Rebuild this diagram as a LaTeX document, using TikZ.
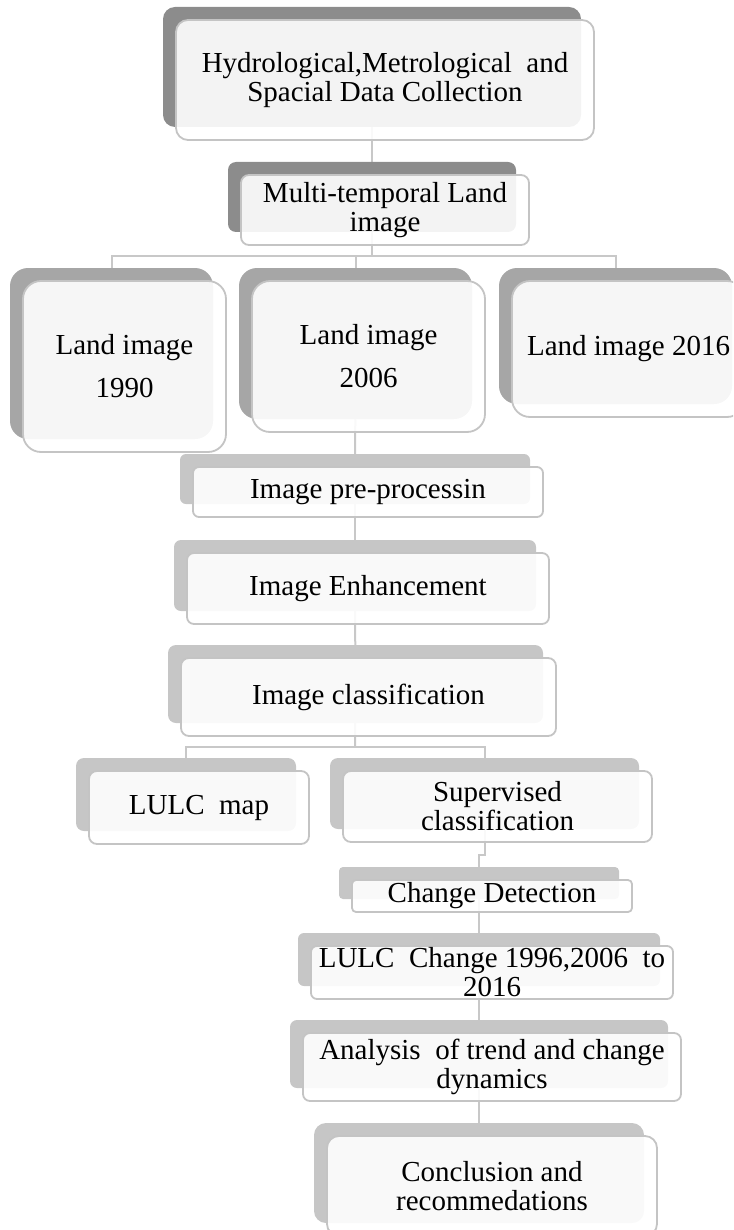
\documentclass[tikz,border=0pt]{standalone}
\usepackage{fontspec}
\setmainfont{Liberation Serif}
\usetikzlibrary{shadows,backgrounds}

\definecolor{shadowdark}{HTML}{8C8C8C}
\definecolor{shadowmid}{HTML}{A6A6A6}
\definecolor{shadowlight}{HTML}{C6C6C6}
\definecolor{boxline}{HTML}{C4C4C4}
\definecolor{linkgray}{HTML}{C8C8C8}

\newcommand{\boxfont}{\fontsize{14.5pt}{14.5pt}\selectfont}
\newcommand{\landfont}{\fontsize{14.5pt}{21.5pt}\selectfont}

\tikzset{
	blk/.style={draw=boxline, line width=0.9pt, fill=white, fill opacity=0.9, text opacity=1,
		align=center, inner sep=0pt, font=\boxfont},
	backplate/.style={general shadow={fill=#1, fill opacity=1, draw=none,
		shadow xshift=-6.5pt, shadow yshift=6.5pt}},
	conn/.style={draw=linkgray, line width=1pt}
}

\begin{document}
\begin{tikzpicture}[x=0.5pt, y=-0.5pt]
		\path[use as bounding box, clip] (0,0) rectangle (733,1230);

		% Data collection
		\node[blk, backplate=shadowdark, rounded corners=6pt, minimum width=209pt, minimum height=60pt] (collect) at (385,80)
			{Hydrological,Metrological~ and\\Spacial Data Collection};
		\node[blk, backplate=shadowdark, rounded corners=4pt, minimum width=144pt, minimum height=35pt] (multi) at (385,210)
			{Multi-temporal Land\\image};

		% Land images
		\node[blk, backplate=shadowmid, rounded corners=9pt, font=\landfont, minimum width=101.5pt, minimum height=85.5pt] (land1) at (124.5,366.5)
			{Land image\\1990};
		\node[blk, backplate=shadowmid, rounded corners=9pt, font=\landfont, minimum width=116.5pt, minimum height=75.5pt] (land2) at (368.5,356.5)
			{Land image\\2006};
		\node[blk, backplate=shadowmid, rounded corners=9pt, minimum width=116.5pt, minimum height=68pt] (land3) at (628.5,349)
			{Land image 2016};

		% Processing chain
		\node[blk, backplate=shadowlight, rounded corners=3pt, minimum width=175pt, minimum height=25pt] (prep) at (368,492)
			{Image pre-processin};
		\node[blk, backplate=shadowlight, rounded corners=3.5pt, minimum width=181pt, minimum height=35.5pt] (enhance) at (368,588.5)
			{Image Enhancement};
		\node[blk, backplate=shadowlight, rounded corners=4pt, minimum width=187.5pt, minimum height=39pt] (classify) at (368.5,697)
			{Image classification};

		% Classification outputs
		\node[blk, backplate=shadowlight, rounded corners=4pt, minimum width=110pt, minimum height=36.5pt] (lulcmap) at (199,807.5)
			{LULC~ map};
		\node[blk, backplate=shadowlight, rounded corners=4pt, minimum width=154.5pt, minimum height=35.5pt] (superv) at (497.5,806.5)
			{Supervised\\classification};

		% Change analysis
		\node[blk, backplate=shadowlight, rounded corners=2pt, minimum width=140pt, minimum height=16pt] (detect) at (492,896)
			{Change Detection};
		\node[blk, backplate=shadowlight, rounded corners=3pt, minimum width=181pt, minimum height=26.5pt] (lulcchange) at (492,972.5)
			{LULC~ Change 1996,2006~ to\\2016};
		\node[blk, backplate=shadowlight, rounded corners=3.5pt, minimum width=189pt, minimum height=34pt] (trend) at (492,1067)
			{Analysis~ of trend and change\\dynamics};
		\node[blk, backplate=shadowlight, rounded corners=6pt, minimum width=165pt, minimum height=50pt] (concl) at (492,1186)
			{Conclusion and\\recommedations};

		% Split points
		\coordinate (fork1) at (372,256);
		\coordinate (fork2) at (355,747);
		\coordinate (jog) at (479,855);

		% Connectors behind the boxes
		\begin{scope}[on background layer]
			\draw[conn] ([xshift=-6.5pt]collect.center) -- ([xshift=-6.5pt]multi.center);
			\draw[conn] ([xshift=-6.5pt]multi.center) -- (fork1);
			\draw[conn] (fork1) -| ([xshift=-6.5pt]land1.center);
			\draw[conn] (fork1) -| ([xshift=-6.5pt]land2.center);
			\draw[conn] (fork1) -| ([xshift=-6.5pt]land3.center);
			\draw[conn] ([xshift=-6.5pt]land2.center) -- ([xshift=-6.5pt]prep.center);
			\draw[conn] ([xshift=-6.5pt]prep.center) -- ([xshift=-6.5pt]enhance.center);
			\draw[conn] ([xshift=-6.5pt]enhance.center) -- ([xshift=-6.5pt]classify.center);
			\draw[conn] ([xshift=-6.5pt]classify.center) -- (fork2);
			\draw[conn] (fork2) -| ([xshift=-6.5pt]lulcmap.center);
			\draw[conn] (fork2) -| ([xshift=-6.5pt]superv.center);
			\draw[conn] ([xshift=-6.5pt]superv.center) |- (jog) -- ([xshift=-6.5pt]detect.center);
			\draw[conn] ([xshift=-6.5pt]detect.center) -- ([xshift=-6.5pt]lulcchange.center);
			\draw[conn] ([xshift=-6.5pt]lulcchange.center) -- ([xshift=-6.5pt]trend.center);
			\draw[conn] ([xshift=-6.5pt]trend.center) -- ([xshift=-6.5pt]concl.center);
		\end{scope}
\end{tikzpicture}
\end{document}
